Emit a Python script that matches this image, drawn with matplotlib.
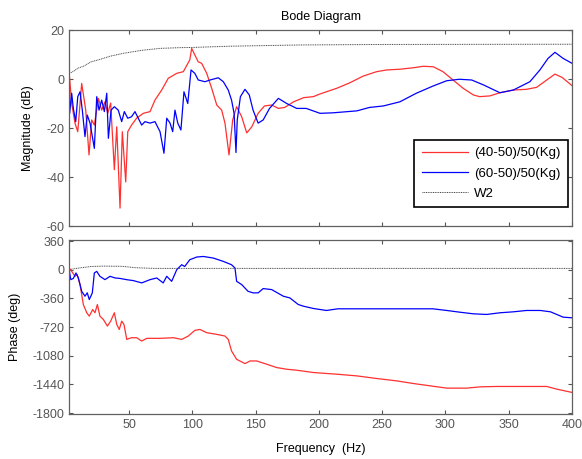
import numpy as np
import matplotlib.pyplot as plt

plt.rcParams['font.family'] = ['Liberation Sans', 'DejaVu Sans']
plt.rcParams['font.size'] = 9
plt.rcParams['axes.unicode_minus'] = False

# (40-50)/50(Kg) magnitude
lo_mag_f = [2.7, 4.7, 7.3, 9.5, 12.6, 15.8, 18.4, 20.5, 22.6, 25.8, 28.4, 31, 33.2, 35.5,
            38.4, 40.3, 42.9, 44.7, 47.4, 49, 52, 56, 61.3, 66.6, 70.5, 75.8, 81, 87.6,
            92.9, 98, 99.5, 102, 104.7, 107.4, 111.4, 115.3, 119.3, 123.2, 125.8, 129,
            131.9, 135, 139, 143, 147, 152, 157, 162.7, 168, 173, 180, 188, 195.6, 200.9,
            206, 214, 224.6, 235, 245.6, 253.5, 264, 274.6, 282.5, 290.4, 298, 306, 314,
            322, 327, 335, 343, 353.6, 364, 372, 380, 386.5, 392, 400]
lo_mag_db = [2.4, -9.8, -18, -21.5, -1.8, -12.7, -31, -16.7, -18.8, -7.9, -12.7, -9.3, -14,
             -9.8, -37, -19.5, -52.7, -21.5, -42, -21.5, -18.8, -16, -14, -13.3, -8.6, -4.5,
             0.3, 2.3, 3, 7.8, 12.5, 9.8, 7, 6.4, 2.3, -3.8, -10.6, -12.7, -18, -31, -16.7,
             -11.3, -15.4, -22, -19.5, -14, -11, -10.6, -12, -11.6, -9.3, -7.6, -7.2, -6.1,
             -5.2, -3.8, -1.5, 1.2, 3, 3.7, 4, 4.6, 5.2, 5, 3, -0.4, -3.8, -6.5, -7.2, -6.9,
             -5.6, -4.5, -4.2, -3.4, -0.4, 2, 0.7, -2.7]

# (60-50)/50(Kg) magnitude
hi_mag_f = [2.7, 3.1, 4.7, 6, 7.9, 9.5, 11.3, 13.1, 15.2, 17, 19.2, 22.6, 24.5, 26.3, 28.4,
            30.5, 32.4, 33.7, 35.8, 38.4, 41.5, 44.2, 46.3, 49, 52, 54.7, 57.3, 60, 62.6,
            66.6, 70.5, 74.5, 77.6, 79.8, 82.4, 84.5, 86.3, 88.5, 91, 93.4, 96.4, 99, 102,
            104.7, 110, 114, 120.5, 124.5, 128.4, 131, 133, 134.5, 135.5, 138, 141.6, 145,
            148, 152, 156, 161, 168, 174.6, 182.5, 190, 200.9, 211, 230, 240, 250.9, 264,
            277, 290, 301, 311, 320.7, 330, 343, 353.6, 366.7, 374.6, 381, 386.5, 393, 400]
hi_mag_db = [2, -14, -5.8, -12, -17.4, -7.2, -5.2, -12.7, -23.5, -14.7, -18, -28.3, -7.2,
             -12.7, -8.6, -13.3, -5.8, -24.2, -12.7, -11.3, -12.7, -17.4, -13.3, -16, -15.4,
             -13.3, -16, -18.8, -17.4, -18, -17.4, -21.5, -30.3, -16, -18, -21.5, -12.7, -18,
             -20.8, -5.2, -10, 3.7, 2.3, -0.4, -1.1, -0.4, 0.5, -1.1, -4.5, -8.6, -14, -30,
             -16.7, -7.2, -4.2, -6.5, -12.7, -18, -16.7, -12, -7.9, -10, -12, -12, -14,
             -13.8, -13, -11.6, -11, -9.3, -5.8, -2.9, -0.7, -0.1, -0.4, -2.4, -5.6, -4.5,
             -1.1, 3.7, 8.4, 10.9, 8.4, 6.4]

# W2 magnitude
w2_mag_f = [2.7, 5, 10, 14, 20, 27, 35, 45.5, 60, 74.5, 90, 100.8, 130, 185, 250, 400]
w2_mag_db = [2.4, 2.8, 4.5, 5.2, 7, 8, 9.3, 10.5, 11.7, 12.5, 12.8, 12.9, 13.4, 13.9, 14.1, 14.2]

# phases
lo_ph_f = [2.7, 4.7, 7.3, 9, 11.3, 13.9, 16.6, 18.6, 21.3, 23.1, 25, 27, 29.7, 32.9, 35.5,
           38.4, 40.3, 42.3, 44.2, 46, 48.2, 52, 56, 60, 64, 74.5, 85, 91.6, 96.8, 102, 106,
           111.4, 119.3, 125.8, 128.4, 131, 135, 141.6, 145.6, 150.9, 158.8, 166.7, 174.6,
           182.5, 195.6, 214, 229.8, 245.6, 261.5, 274.6, 287.8, 301, 316.8, 327.3, 340.5,
           380, 388, 400]
lo_ph_deg = [21, -21, -83, -62, -187, -437, -541, -583, -500, -541, -437, -583, -625, -708,
             -646, -541, -687, -750, -646, -687, -875, -854, -854, -896, -862, -862, -854,
             -875, -833, -762, -750, -791, -812, -833, -875, -1021, -1125, -1179, -1146,
             -1146, -1187, -1229, -1250, -1262, -1291, -1312, -1333, -1366, -1396, -1429,
             -1458, -1487, -1487, -1471, -1466, -1466, -1500, -1541]

hi_ph_f = [2.7, 4, 6, 8.1, 10, 12.6, 15.2, 17, 18.6, 21, 22.6, 24.5, 27, 31, 35, 39, 43, 48,
           53.4, 60, 66.6, 71.9, 77, 79.8, 83.7, 87.7, 91.6, 94, 98, 103.5, 108.7, 116.6,
           124.5, 131, 133.7, 135, 139, 144, 148, 152, 156, 162.7, 171.9, 177, 183.7, 187.7,
           195.6, 206, 215, 235, 264, 290, 301, 311, 322, 332.6, 343, 353.6, 364, 375, 383,
           393, 400]
hi_ph_deg = [0, -125, -110, -41, -104, -271, -333, -290, -375, -291, -41, -21, -83, -125,
             -83, -104, -110, -125, -137, -166, -125, -104, -166, -83, -146, 0, 62, 40, 125,
             159, 166, 146, 104, 62, 21, -146, -187, -271, -291, -291, -237, -250, -333,
             -354, -437, -458, -487, -512, -491, -491, -491, -491, -512, -533, -554, -562,
             -541, -529, -512, -512, -529, -596, -604]

w2_ph_f = [2.7, 6, 10, 20, 30, 45, 55, 70, 100, 200, 400]
w2_ph_deg = [0, 10, 20, 40, 45, 42, 25, 16, 16, 16, 16]

labels = ['(40-50)/50(Kg)', '(60-50)/50(Kg)', 'W2']
red, blue, grey = '#ff3030', '#0000ff', '#444444'
dots = (0, (1, 0.8))

fig = plt.figure(figsize=(5.82, 4.59), dpi=100)
ax1 = fig.add_axes([0.1186, 0.5076, 0.8643, 0.427])
ax2 = fig.add_axes([0.1186, 0.098, 0.8643, 0.379])

ax1.plot(lo_mag_f, lo_mag_db, color=red, lw=0.9, label=labels[0])
ax1.plot(hi_mag_f, hi_mag_db, color=blue, lw=0.9, label=labels[1])
ax1.plot(w2_mag_f, w2_mag_db, color=grey, lw=0.7, ls=dots, label=labels[2])

ax2.plot(lo_ph_f, lo_ph_deg, color=red, lw=0.9)
ax2.plot(hi_ph_f, hi_ph_deg, color=blue, lw=0.9)
ax2.plot(w2_ph_f, w2_ph_deg, color=grey, lw=0.7, ls=dots)

for ax in (ax1, ax2):
    ax.set_xlim(2.6, 400)
    ax.set_xticks(np.arange(50, 401, 50))
    ax.tick_params(direction='in', top=True, right=True, length=3,
                   colors='#555555', labelcolor='#555555', labelsize=9)
    for s in ax.spines.values():
        s.set_color('#606060')
        s.set_linewidth(0.9)

ax1.set_ylim(-60, 20)
ax1.set_yticks([-60, -40, -20, 0, 20])
ax1.tick_params(labelbottom=False)
ax1.set_ylabel('Magnitude (dB)')
ax1.yaxis.set_label_coords(-0.07, 0.5)
ax1.set_title('Bode Diagram', fontsize=9, pad=7)

ax2.set_ylim(-1812, 372)
ax2.set_yticks(np.arange(-1800, 361, 360))
ax2.set_ylabel('Phase (deg)')
ax2.yaxis.set_label_coords(-0.096, 0.5)
ax2.set_xlabel('Frequency  (Hz)', labelpad=9)

leg = ax1.legend(loc='lower right', bbox_to_anchor=(0.992, 0.097), borderaxespad=0,
                 fancybox=False, framealpha=1, edgecolor='black', handlelength=3.5,
                 handletextpad=0.5, labelspacing=0.6, fontsize=9.5, borderpad=0.55)
leg.get_frame().set_linewidth(1.2)

fig.savefig('out.png', dpi=100)
